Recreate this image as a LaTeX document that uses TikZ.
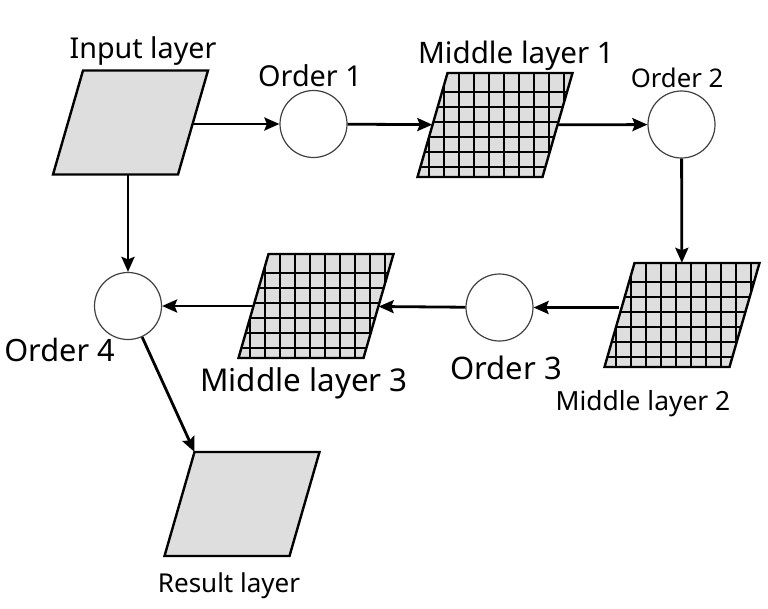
\documentclass[tikz,border=0pt]{standalone}
\usepackage{fontspec}
\setmainfont{Noto Sans}
\usetikzlibrary{arrows.meta}
\definecolor{pfill}{RGB}{222,222,222}
\newcommand{\parapath}[2]{({#1-47.5},{#2-52}) -- ({#1+77.5},{#2-52}) -- ({#1+47.5},{#2+52}) -- ({#1-77.5},{#2+52}) -- cycle}
\newcommand{\plainpara}[3]{%
  \fill[pfill] \parapath{#2}{#3};
  \draw[paraedge] \parapath{#2}{#3};
  \node[anchorbox] (#1) at (#2,#3) {};
  \coordinate (#1tl) at ({#2-47.5},{#3-52});
}
\newcommand{\gridpara}[3]{%
  \begin{scope}
    \clip \parapath{#2}{#3};
    \fill[pfill] \parapath{#2}{#3};
    \foreach \k in {-2,...,7} \draw[gridline] ({#2-47.5+11+15*\k},{#3-60}) -- ++(0,120);
    \foreach \k in {0,...,5} \draw[gridline] ({#2-80},{#3-52+19+15*\k}) -- ++(160,0);
  \end{scope}
  \draw[paraedge] \parapath{#2}{#3};
  \node[anchorbox] (#1) at (#2,#3) {};
}
\begin{document}
\begin{tikzpicture}[x=1pt,y=-1pt,
  lbl/.style={inner sep=0pt, anchor=base, font=\fontsize{#1}{#1}\selectfont},
  paraedge/.style={draw=black, line width=2.4pt, line join=miter},
  gridline/.style={draw=black, line width=2pt},
  anchorbox/.style={rectangle, draw=none, minimum width=125pt, minimum height=104pt, inner sep=0pt},
  circ/.style={circle, draw=black!75, line width=1.2pt, fill=white, minimum size=67pt, inner sep=0pt},
  arr/.style={line width=2.8pt, -{Stealth[length=15pt,width=13pt,inset=2.5pt]}}]
\useasboundingbox (0,0) rectangle (768,608);

% layers
\plainpara{In}{130.5}{122.5}
\gridpara{ML1}{495}{125}
\gridpara{ML2}{682}{315}
\gridpara{ML3}{316}{306}
\plainpara{Res}{242}{504}

% order circles
\node[circ] (O1) at (313.5,124) {};
\node[circ] (O2) at (681.5,124.5) {};
\node[circ] (O3) at (499.5,307.5) {};
\node[circ] (O4) at (128,306) {};

% connectors
\draw[arr] (O1 -| In.east) -- (O1);
\draw[arr] (O1) -- (ML1);
\draw[arr] (ML1) -- (O2);
\draw[arr] (O2) -- (ML2);
\draw[arr] (ML2.west |- O3) -- (O3);
\draw[arr] (O3) -- (ML3);
\draw[arr] (ML3) -- (O4);
\draw[arr] (O4 |- In.south) -- (O4);
\draw[arr] (O4) -- (Restl);

% labels
\node[lbl=28.7] (tIn) at (143,58) {Input layer};
\node[lbl=28.8] (tO1) at (310,86) {Order 1};
\node[lbl=29.6] (tML1) at (516,63) {Middle layer 1};
\node[lbl=25.7] (tO2) at (677,87) {Order 2};
\node[lbl=26.4] (tML2) at (643,410) {Middle layer 2};
\node[lbl=31] (tO3) at (506,379) {Order 3};
\node[lbl=31.4] (tML3) at (304,391) {Middle layer 3};
\node[lbl=30.7] (tO4) at (59.5,361) {Order 4};
\node[lbl=26] (tRes) at (229,592) {Result layer};
\end{tikzpicture}
\end{document}
